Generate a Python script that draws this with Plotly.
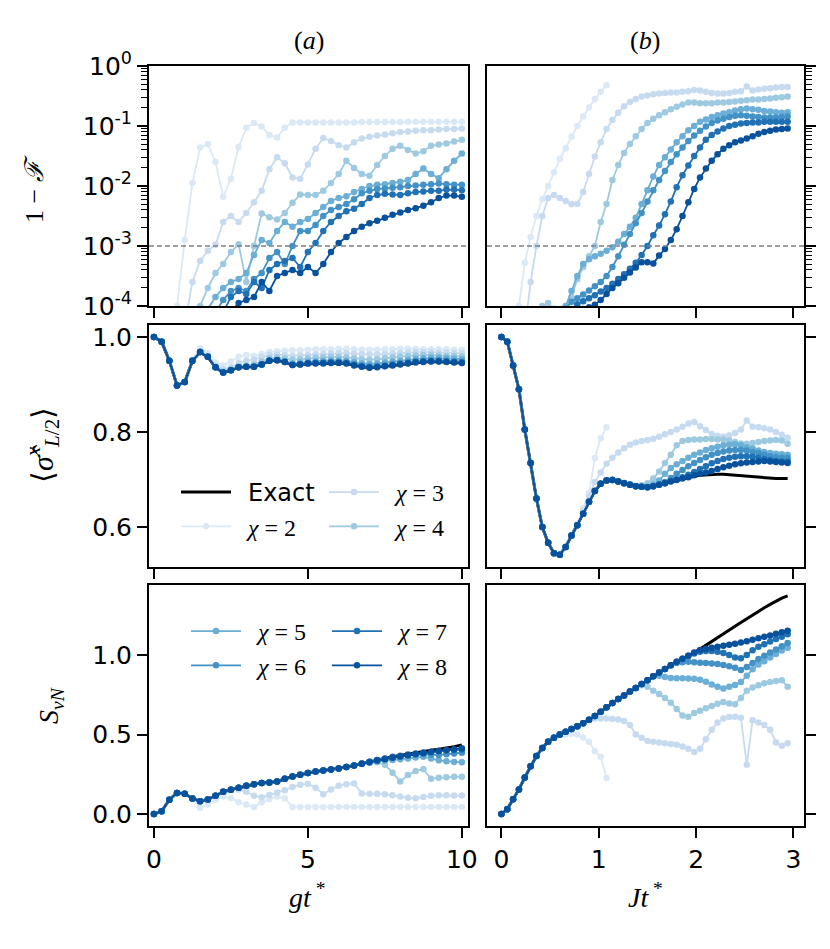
import plotly.graph_objects as go

W, H = 830, 949

# ---------------- time grids ----------------
T_A = [0, 0.25, 0.5, 0.75, 1, 1.25, 1.5, 1.75, 2, 2.25, 2.5, 2.75, 3, 3.25, 3.5, 3.75,
       4, 4.25, 4.5, 4.75, 5, 5.25, 5.5, 5.75, 6, 6.25, 6.5, 6.75, 7, 7.25, 7.5, 7.75,
       8, 8.25, 8.5, 8.75, 9, 9.25, 9.5, 9.75, 10]
T_B = [0, 0.06, 0.12, 0.18, 0.24, 0.3, 0.36, 0.42, 0.48, 0.54, 0.6, 0.66, 0.72, 0.78,
       0.84, 0.9, 0.96, 1.02, 1.08, 1.14, 1.2, 1.26, 1.32, 1.38, 1.44, 1.5, 1.56, 1.62,
       1.68, 1.74, 1.8, 1.86, 1.92, 1.98, 2.04, 2.1, 2.16, 2.22, 2.28, 2.34, 2.4, 2.46,
       2.52, 2.58, 2.64, 2.7, 2.76, 2.82, 2.88, 2.94]
T_B_CHI2 = [0, 0.06, 0.12, 0.18, 0.24, 0.3, 0.36, 0.42, 0.48, 0.54, 0.6, 0.66, 0.72,
            0.78, 0.84, 0.9, 0.96, 1.02, 1.08]

CHI = [2, 3, 4, 5, 6, 7, 8]
COLORS = ["#dbe9f6", "#c6dbef", "#9ecae1", "#6baed6", "#4292c6", "#2171b5", "#08519c"]

# ---------------- (a) top: log10(1-F) ----------------
log_inf_a_chi2 = [-6, -6, -5.5, -4.0, -2.9, -1.95, -1.36, -1.3, -1.6, -2.18, -1.88, -1.35, -1.03,
                  -0.95, -1.01, -1.15, -1.19, -1.03, -0.94, -0.94, -0.94, -0.94, -0.94, -0.94,
                  -0.94, -0.94, -0.94, -0.935, -0.935, -0.935, -0.935, -0.935, -0.935, -0.93,
                  -0.93, -0.93, -0.93, -0.93, -0.93, -0.93, -0.93]
log_inf_a_chi3 = [-6, -6, -6, -5.5, -4.3, -3.6, -3.25, -3.08, -2.98, -2.6, -2.5, -2.6, -2.45,
                  -2.27, -2.08, -1.72, -1.52, -1.62, -1.86, -1.88, -1.64, -1.38, -1.2, -1.25,
                  -1.32, -1.36, -1.27, -1.21, -1.18, -1.16, -1.14, -1.12, -1.1, -1.09, -1.08,
                  -1.07, -1.07, -1.06, -1.05, -1.05, -1.04]
log_inf_a_chi4 = [-6, -6, -6, -6, -5.5, -4.6, -4.0, -3.7, -3.45, -3.3, -3.1, -2.97, -3.6, -3.0,
                  -2.46, -2.52, -2.56, -2.45, -2.28, -2.14, -2.15, -2.15, -2.08, -1.95, -1.8,
                  -1.58, -1.7, -1.8, -1.83, -1.65, -1.5, -1.38, -1.33, -1.4, -1.46, -1.42,
                  -1.33, -1.31, -1.29, -1.26, -1.23]
log_inf_a_chi5 = [-6, -6, -6, -5.5, -5, -4.6, -4.3, -4.05, -3.85, -3.7, -3.6, -3.55, -3.45,
                  -3.15, -2.9, -2.95, -2.75, -2.6, -2.68, -2.6, -2.55, -2.45, -2.35, -2.25,
                  -2.2, -2.17, -2.1, -2.05, -2.0, -1.98, -1.97, -1.95, -1.93, -1.9, -1.8,
                  -1.71, -1.8, -1.87, -1.72, -1.58, -1.46]
log_inf_a_chi6 = [-6, -6, -6, -6, -5.5, -5, -4.6, -4.3, -4.1, -3.9, -3.75, -3.7, -3.75, -3.55,
                  -3.45, -3.2, -3.1, -3.3, -3.0, -2.75, -2.75, -2.65, -2.5, -2.4, -2.35, -2.3,
                  -2.22, -2.12, -2.08, -2.05, -2.04, -2.03, -2.02, -2.0, -1.99, -1.98, -1.97,
                  -1.96, -1.97, -1.98, -1.98]
log_inf_a_chi7 = [-6, -6, -6, -6, -6, -5.5, -5, -4.6, -4.3, -4.1, -3.85, -3.75, -3.8, -3.6,
                  -3.7, -3.4, -3.3, -3.25, -3.2, -3.35, -3.1, -2.95, -2.75, -2.6, -2.5, -2.42,
                  -2.38, -2.3, -2.2, -2.15, -2.13, -2.14, -2.15, -2.12, -2.1, -2.09, -2.08,
                  -2.08, -2.06, -2.06, -2.07]
log_inf_a_chi8 = [-6, -6, -6, -6, -6, -6, -5.5, -5, -4.6, -4.3, -4.1, -3.95, -3.9, -3.85,
                  -3.6, -3.75, -3.5, -3.45, -3.4, -3.45, -3.35, -3.45, -3.3, -3.1, -2.95,
                  -2.85, -2.75, -2.68, -2.62, -2.58, -2.53, -2.48, -2.44, -2.4, -2.37, -2.33,
                  -2.27, -2.2, -2.16, -2.16, -2.18]

# ---------------- (b) top: log10(1-F) ----------------
log_inf_b_chi2 = [-7, -6.5, -5, -4.0, -3.28, -2.85, -2.5, -2.22, -2.0, -1.77, -1.55, -1.37,
                  -1.18, -1.0, -0.84, -0.69, -0.55, -0.43, -0.32]
log_inf_b_chi3 = [-7, -7, -6, -5, -4.4, -3.6, -3.0, -2.5, -2.2, -2.15, -2.2, -2.25, -2.3, -2.3,
                  -2.1, -1.8, -1.51, -1.27, -1.05, -0.9, -0.78, -0.67, -0.6, -0.55, -0.51,
                  -0.49, -0.47, -0.46, -0.45, -0.44, -0.44, -0.43, -0.42, -0.40, -0.41, -0.43,
                  -0.45, -0.46, -0.46, -0.45, -0.43, -0.42, -0.34, -0.41, -0.39, -0.38, -0.37,
                  -0.36, -0.35, -0.35]
log_inf_b_chi4 = [-7, -7, -7, -6, -5, -4.5, -4.1, -4.0, -3.95, -4.05, -4.3, -4.1, -3.85, -3.55,
                  -3.35, -3.17, -3.0, -2.6, -2.3, -1.9, -1.65, -1.45, -1.3, -1.17, -1.05, -0.95,
                  -0.88, -0.82, -0.77, -0.72, -0.68, -0.64, -0.61, -0.61, -0.62, -0.62, -0.62,
                  -0.61, -0.61, -0.6, -0.59, -0.58, -0.57, -0.56, -0.56, -0.55, -0.54, -0.53,
                  -0.52, -0.51]
log_inf_b_chi5 = [-7, -7, -7, -6.5, -6, -5.5, -5, -4.3, -4.1, -4.05, -4.1, -4.0, -3.75, -3.5,
                  -3.3, -3.22, -3.17, -3.13, -3.08, -3.02, -2.93, -2.8, -2.68, -2.53, -2.3,
                  -2.07, -1.84, -1.65, -1.52, -1.39, -1.27, -1.17, -1.07, -1.0, -0.93, -0.89,
                  -0.85, -0.82, -0.79, -0.77, -0.74, -0.72, -0.71, -0.72, -0.73, -0.75, -0.76,
                  -0.77, -0.78, -0.77]
log_inf_b_chi6 = [-7, -7, -7, -7, -6.5, -6, -5.5, -5, -4.7, -4.4, -4.2, -4.05, -3.93, -3.87,
                  -3.81, -3.74, -3.67, -3.6, -3.5, -3.35, -3.17, -2.98, -2.8, -2.62, -2.45,
                  -2.26, -2.07, -1.9, -1.75, -1.6, -1.47, -1.36, -1.25, -1.16, -1.08, -1.01,
                  -0.95, -0.91, -0.88, -0.85, -0.83, -0.82, -0.83, -0.84, -0.85, -0.86, -0.86,
                  -0.86, -0.85, -0.84]
log_inf_b_chi7 = [-7, -7, -7, -7, -7, -6.5, -6, -5.5, -5, -4.7, -4.4, -4.2, -4.05, -3.97,
                  -3.92, -3.87, -3.82, -3.76, -3.7, -3.63, -3.55, -3.47, -3.38, -3.28, -3.15,
                  -3.0, -2.82, -2.66, -2.47, -2.26, -2.02, -1.82, -1.66, -1.5, -1.36, -1.23,
                  -1.15, -1.09, -1.04, -1.0, -0.98, -0.96, -0.95, -0.94, -0.94, -0.93, -0.93,
                  -0.93, -0.93, -0.93]
log_inf_b_chi8 = [-7, -7, -7, -7, -7, -7, -6.5, -6, -5.5, -5, -4.7, -4.5, -4.3, -4.15, -4.05,
                  -4.02, -3.98, -3.9, -3.8, -3.7, -3.62, -3.53, -3.44, -3.36, -3.27, -3.27,
                  -3.29, -3.16, -3.05, -2.9, -2.72, -2.5, -2.27, -2.05, -1.86, -1.71, -1.58,
                  -1.47, -1.38, -1.32, -1.27, -1.24, -1.21, -1.17, -1.13, -1.1, -1.08, -1.06,
                  -1.05, -1.04]

# ---------------- (a) middle: <sigma^x_{L/2}> ----------------
sx_a_exact = [1.0, 0.99, 0.95, 0.898, 0.905, 0.95, 0.968, 0.958, 0.936, 0.925, 0.93, 0.936,
              0.937, 0.937, 0.942, 0.95, 0.951, 0.947, 0.941, 0.942, 0.944, 0.944, 0.944, 0.945,
              0.945, 0.944, 0.94, 0.937, 0.935, 0.936, 0.938, 0.94, 0.942, 0.944, 0.946, 0.947,
              0.948, 0.948, 0.947, 0.946, 0.945]
sx_a_chi2 = [1.0, 0.99, 0.95, 0.898, 0.905, 0.952, 0.976, 0.966, 0.946, 0.94, 0.948, 0.958,
             0.962, 0.96, 0.964, 0.968, 0.97, 0.971, 0.972, 0.972, 0.973, 0.974, 0.974, 0.974,
             0.975, 0.975, 0.974, 0.973, 0.973, 0.973, 0.974, 0.974, 0.975, 0.975, 0.975, 0.974,
             0.974, 0.974, 0.974, 0.973, 0.973]
sx_a_chi3 = [1.0, 0.99, 0.95, 0.898, 0.905, 0.95, 0.97, 0.96, 0.94, 0.932, 0.936, 0.945, 0.95,
             0.952, 0.958, 0.962, 0.963, 0.962, 0.96, 0.961, 0.962, 0.963, 0.964, 0.965, 0.966,
             0.966, 0.965, 0.964, 0.963, 0.963, 0.964, 0.965, 0.966, 0.967, 0.968, 0.968, 0.968,
             0.967, 0.967, 0.966, 0.966]
sx_a_chi4 = [1.0, 0.99, 0.95, 0.898, 0.905, 0.95, 0.968, 0.958, 0.937, 0.927, 0.932, 0.938,
             0.94, 0.942, 0.948, 0.955, 0.957, 0.955, 0.952, 0.953, 0.955, 0.956, 0.957, 0.958,
             0.958, 0.957, 0.955, 0.953, 0.952, 0.953, 0.955, 0.957, 0.959, 0.96, 0.961, 0.962,
             0.962, 0.961, 0.96, 0.96, 0.959]
sx_a_chi5 = [1.0, 0.99, 0.95, 0.898, 0.905, 0.95, 0.968, 0.958, 0.936, 0.925, 0.93, 0.936,
             0.937, 0.938, 0.943, 0.951, 0.952, 0.949, 0.944, 0.946, 0.948, 0.949, 0.95, 0.951,
             0.951, 0.95, 0.947, 0.944, 0.943, 0.944, 0.946, 0.948, 0.95, 0.952, 0.954, 0.955,
             0.956, 0.956, 0.955, 0.954, 0.953]
sx_a_chi6 = [1.0, 0.99, 0.95, 0.898, 0.905, 0.95, 0.968, 0.958, 0.936, 0.925, 0.93, 0.936,
             0.937, 0.937, 0.942, 0.95, 0.951, 0.948, 0.942, 0.943, 0.945, 0.946, 0.946, 0.947,
             0.947, 0.946, 0.943, 0.94, 0.938, 0.939, 0.941, 0.943, 0.945, 0.947, 0.949, 0.95,
             0.951, 0.951, 0.95, 0.949, 0.948]
sx_a_chi7 = [1.0, 0.99, 0.95, 0.898, 0.905, 0.95, 0.968, 0.958, 0.936, 0.925, 0.93, 0.936,
             0.937, 0.937, 0.942, 0.95, 0.951, 0.947, 0.941, 0.942, 0.944, 0.945, 0.945, 0.946,
             0.946, 0.945, 0.941, 0.938, 0.936, 0.937, 0.939, 0.941, 0.943, 0.945, 0.947, 0.948,
             0.949, 0.949, 0.948, 0.947, 0.946]
sx_a_chi8 = [1.0, 0.99, 0.95, 0.898, 0.905, 0.95, 0.968, 0.958, 0.936, 0.925, 0.93, 0.936,
             0.937, 0.937, 0.942, 0.95, 0.951, 0.947, 0.941, 0.942, 0.944, 0.944, 0.944, 0.945,
             0.945, 0.944, 0.94, 0.937, 0.935, 0.936, 0.938, 0.94, 0.942, 0.944, 0.946, 0.947,
             0.948, 0.948, 0.947, 0.946, 0.945]

# ---------------- (b) middle ----------------
sx_b_exact = [1.0, 0.99, 0.94, 0.89, 0.805, 0.735, 0.66, 0.6, 0.567, 0.545, 0.542, 0.558, 0.582,
              0.604, 0.628, 0.653, 0.676, 0.691, 0.698, 0.699, 0.696, 0.692, 0.689, 0.686, 0.685,
              0.684, 0.686, 0.689, 0.692, 0.696, 0.699, 0.702, 0.704, 0.707, 0.709, 0.71, 0.711,
              0.711, 0.711, 0.71, 0.709, 0.708, 0.706, 0.705, 0.704, 0.703, 0.702, 0.702, 0.702,
              0.702]
sx_b_chi2 = [1.0, 0.99, 0.94, 0.89, 0.805, 0.735, 0.66, 0.6, 0.567, 0.545, 0.542, 0.558, 0.582,
             0.606, 0.64, 0.672, 0.745, 0.787, 0.81]
sx_b_chi3 = [1.0, 0.99, 0.94, 0.89, 0.805, 0.735, 0.66, 0.6, 0.567, 0.545, 0.542, 0.558, 0.582,
             0.605, 0.632, 0.665, 0.695, 0.715, 0.733, 0.746, 0.757, 0.766, 0.773, 0.778, 0.781,
             0.783, 0.786, 0.79, 0.795, 0.8, 0.805, 0.811, 0.818, 0.821, 0.812, 0.804, 0.796,
             0.792, 0.79, 0.793, 0.798, 0.805, 0.824, 0.811, 0.81, 0.808, 0.805, 0.8, 0.794,
             0.788]
sx_b_chi4 = [1.0, 0.99, 0.94, 0.89, 0.805, 0.735, 0.66, 0.6, 0.567, 0.545, 0.542, 0.558, 0.582,
             0.604, 0.628, 0.653, 0.677, 0.692, 0.699, 0.7, 0.697, 0.693, 0.69, 0.687, 0.688,
             0.692, 0.702, 0.717, 0.735, 0.752, 0.772, 0.781, 0.783, 0.784, 0.784, 0.785, 0.785,
             0.784, 0.784, 0.782, 0.779, 0.776, 0.775, 0.777, 0.779, 0.781, 0.782, 0.783, 0.782,
             0.775]
sx_b_chi5 = [1.0, 0.99, 0.94, 0.89, 0.805, 0.735, 0.66, 0.6, 0.567, 0.545, 0.542, 0.558, 0.582,
             0.604, 0.628, 0.653, 0.676, 0.691, 0.698, 0.699, 0.696, 0.692, 0.689, 0.686, 0.685,
             0.685, 0.69, 0.698, 0.712, 0.724, 0.732, 0.739, 0.746, 0.752, 0.757, 0.762, 0.766,
             0.769, 0.772, 0.773, 0.774, 0.772, 0.768, 0.765, 0.761, 0.758, 0.756, 0.754, 0.753,
             0.752]
sx_b_chi6 = [1.0, 0.99, 0.94, 0.89, 0.805, 0.735, 0.66, 0.6, 0.567, 0.545, 0.542, 0.558, 0.582,
             0.604, 0.628, 0.653, 0.676, 0.691, 0.698, 0.699, 0.696, 0.692, 0.689, 0.686, 0.685,
             0.684, 0.686, 0.69, 0.695, 0.703, 0.712, 0.72, 0.728, 0.735, 0.741, 0.747, 0.752,
             0.756, 0.759, 0.761, 0.762, 0.762, 0.761, 0.758, 0.755, 0.752, 0.749, 0.747, 0.746,
             0.745]
sx_b_chi7 = [1.0, 0.99, 0.94, 0.89, 0.805, 0.735, 0.66, 0.6, 0.567, 0.545, 0.542, 0.558, 0.582,
             0.604, 0.628, 0.653, 0.676, 0.691, 0.698, 0.699, 0.696, 0.692, 0.689, 0.686, 0.685,
             0.684, 0.686, 0.689, 0.692, 0.697, 0.7, 0.705, 0.71, 0.716, 0.722, 0.728, 0.734,
             0.739, 0.743, 0.746, 0.748, 0.749, 0.749, 0.748, 0.746, 0.743, 0.741, 0.739, 0.738,
             0.738]
sx_b_chi8 = [1.0, 0.99, 0.94, 0.89, 0.805, 0.735, 0.66, 0.6, 0.567, 0.545, 0.542, 0.558, 0.582,
             0.604, 0.628, 0.653, 0.676, 0.691, 0.698, 0.699, 0.696, 0.692, 0.689, 0.686, 0.685,
             0.684, 0.686, 0.689, 0.692, 0.696, 0.699, 0.702, 0.705, 0.709, 0.712, 0.715, 0.718,
             0.722, 0.726, 0.729, 0.732, 0.734, 0.736, 0.737, 0.738, 0.739, 0.738, 0.737, 0.736,
             0.735]

# ---------------- (a) bottom: S_vN ----------------
s_a_exact = [0, 0.017, 0.09, 0.133, 0.128, 0.098, 0.08, 0.092, 0.115, 0.14, 0.153, 0.165,
             0.178, 0.187, 0.196, 0.198, 0.205, 0.222, 0.236, 0.247, 0.258, 0.267, 0.274, 0.28,
             0.287, 0.296, 0.306, 0.318, 0.329, 0.34, 0.35, 0.36, 0.369, 0.378, 0.386, 0.394,
             0.401, 0.408, 0.415, 0.424, 0.435]
s_a_chi2 = [0, 0.017, 0.09, 0.133, 0.128, 0.095, 0.04, 0.06, 0.09, 0.11, 0.1, 0.075, 0.06,
            0.045, 0.075, 0.095, 0.11, 0.1, 0.045, 0.045, 0.045, 0.045, 0.045, 0.045, 0.045,
            0.045, 0.045, 0.045, 0.045, 0.045, 0.045, 0.045, 0.045, 0.045, 0.045, 0.045, 0.045,
            0.045, 0.045, 0.045, 0.045]
s_a_chi3 = [0, 0.017, 0.09, 0.133, 0.128, 0.098, 0.08, 0.092, 0.115, 0.14, 0.15, 0.155, 0.14,
            0.115, 0.105, 0.12, 0.135, 0.15, 0.17, 0.185, 0.19, 0.165, 0.125, 0.155, 0.178,
            0.188, 0.192, 0.13, 0.128, 0.127, 0.125, 0.118, 0.11, 0.102, 0.1, 0.108, 0.115,
            0.118, 0.118, 0.117, 0.116]
s_a_chi4 = [0, 0.017, 0.09, 0.133, 0.128, 0.098, 0.08, 0.092, 0.115, 0.14, 0.153, 0.165,
            0.178, 0.187, 0.196, 0.198, 0.205, 0.222, 0.236, 0.247, 0.258, 0.267, 0.274, 0.28,
            0.287, 0.296, 0.306, 0.317, 0.327, 0.325, 0.31, 0.26, 0.205, 0.245, 0.27, 0.283,
            0.222, 0.228, 0.232, 0.234, 0.235]
s_a_chi5 = [0, 0.017, 0.09, 0.133, 0.128, 0.098, 0.08, 0.092, 0.115, 0.14, 0.153, 0.165,
            0.178, 0.187, 0.196, 0.198, 0.205, 0.222, 0.236, 0.247, 0.258, 0.267, 0.274, 0.28,
            0.287, 0.296, 0.306, 0.314, 0.322, 0.33, 0.336, 0.34, 0.345, 0.35, 0.356, 0.36,
            0.35, 0.338, 0.332, 0.328, 0.325]
s_a_chi6 = [0, 0.017, 0.09, 0.133, 0.128, 0.098, 0.08, 0.092, 0.115, 0.14, 0.153, 0.165,
            0.178, 0.187, 0.196, 0.198, 0.205, 0.222, 0.236, 0.247, 0.258, 0.267, 0.274, 0.28,
            0.287, 0.296, 0.306, 0.318, 0.329, 0.34, 0.347, 0.355, 0.362, 0.368, 0.373, 0.376,
            0.374, 0.372, 0.376, 0.381, 0.386]
s_a_chi7 = [0, 0.017, 0.09, 0.133, 0.128, 0.098, 0.08, 0.092, 0.115, 0.14, 0.153, 0.165,
            0.178, 0.187, 0.196, 0.198, 0.205, 0.222, 0.236, 0.247, 0.258, 0.267, 0.274, 0.28,
            0.287, 0.296, 0.306, 0.318, 0.329, 0.34, 0.35, 0.36, 0.366, 0.374, 0.381, 0.387,
            0.392, 0.396, 0.4, 0.403, 0.406]
s_a_chi8 = [0, 0.017, 0.09, 0.133, 0.128, 0.098, 0.08, 0.092, 0.115, 0.14, 0.153, 0.165,
            0.178, 0.187, 0.196, 0.198, 0.205, 0.222, 0.236, 0.247, 0.258, 0.267, 0.274, 0.28,
            0.287, 0.296, 0.305, 0.316, 0.326, 0.336, 0.345, 0.354, 0.362, 0.37, 0.377, 0.384,
            0.39, 0.396, 0.402, 0.408, 0.414]

# ---------------- (b) bottom: S_vN ----------------
s_b_exact = [0, 0.03, 0.093, 0.155, 0.23, 0.3, 0.365, 0.415, 0.455, 0.48, 0.5, 0.517, 0.535,
             0.552, 0.571, 0.593, 0.616, 0.643, 0.672, 0.698, 0.723, 0.746, 0.77, 0.793, 0.817,
             0.842, 0.866, 0.89, 0.912, 0.935, 0.958, 0.977, 0.995, 1.015, 1.037, 1.06, 1.084,
             1.108, 1.132, 1.156, 1.18, 1.204, 1.228, 1.252, 1.275, 1.297, 1.318, 1.338, 1.357,
             1.372]
s_b_chi2 = [0, 0.03, 0.093, 0.155, 0.23, 0.3, 0.365, 0.415, 0.455, 0.48, 0.495, 0.5, 0.505,
            0.5, 0.48, 0.455, 0.395, 0.36, 0.226]
s_b_chi3 = [0, 0.03, 0.093, 0.155, 0.23, 0.3, 0.365, 0.415, 0.455, 0.48, 0.5, 0.517, 0.535,
            0.552, 0.571, 0.593, 0.6, 0.6, 0.6, 0.598, 0.595, 0.585, 0.56, 0.5, 0.48, 0.46,
            0.455, 0.45, 0.445, 0.44, 0.435, 0.425, 0.41, 0.39, 0.41, 0.47, 0.53, 0.575, 0.6,
            0.61, 0.612, 0.605, 0.31, 0.59, 0.575, 0.56, 0.53, 0.45, 0.43, 0.445]
s_b_chi4 = [0, 0.03, 0.093, 0.155, 0.23, 0.3, 0.365, 0.415, 0.455, 0.48, 0.5, 0.517, 0.535,
            0.552, 0.571, 0.593, 0.616, 0.643, 0.672, 0.698, 0.723, 0.746, 0.77, 0.793, 0.81,
            0.8, 0.775, 0.755, 0.73, 0.7, 0.66, 0.62, 0.612, 0.635, 0.65, 0.665, 0.68, 0.693,
            0.705, 0.695, 0.69, 0.73, 0.775, 0.795, 0.81, 0.822, 0.83, 0.837, 0.842, 0.8]
s_b_chi5 = [0, 0.03, 0.093, 0.155, 0.23, 0.3, 0.365, 0.415, 0.455, 0.48, 0.5, 0.517, 0.535,
            0.552, 0.571, 0.593, 0.616, 0.643, 0.672, 0.698, 0.723, 0.746, 0.77, 0.793, 0.817,
            0.842, 0.866, 0.87, 0.862, 0.856, 0.854, 0.854, 0.853, 0.85, 0.845, 0.832, 0.815,
            0.8, 0.79, 0.8, 0.812, 0.83, 0.87, 0.91, 0.94, 0.96, 0.985, 1.007, 1.028, 1.045]
s_b_chi6 = [0, 0.03, 0.093, 0.155, 0.23, 0.3, 0.365, 0.415, 0.455, 0.48, 0.5, 0.517, 0.535,
            0.552, 0.571, 0.593, 0.616, 0.643, 0.672, 0.698, 0.723, 0.746, 0.77, 0.793, 0.817,
            0.842, 0.866, 0.89, 0.912, 0.935, 0.95, 0.955, 0.957, 0.955, 0.952, 0.95, 0.947,
            0.943, 0.937, 0.93, 0.92, 0.905, 0.925, 0.95, 0.975, 0.995, 1.015, 1.035, 1.055,
            1.075]
s_b_chi7 = [0, 0.03, 0.093, 0.155, 0.23, 0.3, 0.365, 0.415, 0.455, 0.48, 0.5, 0.517, 0.535,
            0.552, 0.571, 0.593, 0.616, 0.643, 0.672, 0.698, 0.723, 0.746, 0.77, 0.793, 0.817,
            0.842, 0.866, 0.89, 0.912, 0.935, 0.958, 0.977, 0.995, 1.01, 1.02, 1.025, 1.025,
            1.02, 1.012, 1.0, 0.985, 0.98, 1.0, 1.03, 1.052, 1.068, 1.085, 1.1, 1.115, 1.13]
s_b_chi8 = [0, 0.03, 0.093, 0.155, 0.23, 0.3, 0.365, 0.415, 0.455, 0.48, 0.5, 0.517, 0.535,
            0.552, 0.571, 0.593, 0.616, 0.643, 0.672, 0.698, 0.723, 0.746, 0.77, 0.793, 0.817,
            0.842, 0.866, 0.89, 0.912, 0.935, 0.958, 0.977, 0.995, 1.015, 1.032, 1.04, 1.046,
            1.052, 1.058, 1.064, 1.07, 1.078, 1.087, 1.096, 1.105, 1.114, 1.123, 1.133, 1.143,
            1.153]

# ---------------- assemble ----------------
INF_A = [log_inf_a_chi2, log_inf_a_chi3, log_inf_a_chi4, log_inf_a_chi5, log_inf_a_chi6,
         log_inf_a_chi7, log_inf_a_chi8]
INF_B = [log_inf_b_chi2, log_inf_b_chi3, log_inf_b_chi4, log_inf_b_chi5, log_inf_b_chi6,
         log_inf_b_chi7, log_inf_b_chi8]
SX_A = [sx_a_chi2, sx_a_chi3, sx_a_chi4, sx_a_chi5, sx_a_chi6, sx_a_chi7, sx_a_chi8]
SX_B = [sx_b_chi2, sx_b_chi3, sx_b_chi4, sx_b_chi5, sx_b_chi6, sx_b_chi7, sx_b_chi8]
S_A = [s_a_chi2, s_a_chi3, s_a_chi4, s_a_chi5, s_a_chi6, s_a_chi7, s_a_chi8]
S_B = [s_b_chi2, s_b_chi3, s_b_chi4, s_b_chi5, s_b_chi6, s_b_chi7, s_b_chi8]

LEGEND_OF = {("mid_a", 2): "legend", ("mid_a", 3): "legend2", ("mid_a", 4): "legend2",
             ("bot_a", 5): "legend3", ("bot_a", 6): "legend3",
             ("bot_a", 7): "legend4", ("bot_a", 8): "legend4"}

fig = go.Figure()


def chi_name(c):
    return "  <i>χ</i> = %d" % c


def add_panel(key, xa, ya, tgrid, series, exact=None, logy=False):
    if exact is not None:
        fig.add_trace(go.Scatter(
            x=tgrid, y=exact, mode="lines", xaxis=xa, yaxis=ya,
            line=dict(color="black", width=3),
            name='  <span style="font-family:DejaVu Sans">Exact</span>',
            showlegend=(key == "mid_a"), legend="legend"))
    for c, col, vals in zip(CHI, COLORS, series):
        xs = T_B_CHI2 if (c == 2 and tgrid is T_B) else tgrid
        ys = [10 ** v for v in vals] if logy else vals
        leg = LEGEND_OF.get((key, c))
        fig.add_trace(go.Scatter(
            x=xs, y=ys, mode="lines+markers", xaxis=xa, yaxis=ya,
            line=dict(color=col, width=1.8),
            marker=dict(color=col, size=6.5, line=dict(width=0)),
            name=chi_name(c), showlegend=leg is not None,
            legend=leg if leg else "legend"))


add_panel("top_a", "x", "y", T_A, INF_A, logy=True)
add_panel("top_b", "x2", "y2", T_B, INF_B, logy=True)
add_panel("mid_a", "x3", "y3", T_A, SX_A, exact=sx_a_exact)
add_panel("mid_b", "x4", "y4", T_B, SX_B, exact=sx_b_exact)
add_panel("bot_a", "x5", "y5", T_A, S_A, exact=s_a_exact)
add_panel("bot_b", "x6", "y6", T_B, S_B, exact=s_b_exact)

# ---------------- axes ----------------
XL = [149 / W, 468 / W]
XR = [487 / W, 804 / W]
ROWS = [[1 - 306 / H, 1 - 66 / H], [1 - 567 / H, 1 - 325 / H], [1 - 826 / H, 1 - 585 / H]]

TICKFONT = dict(family="DejaVu Sans", size=25, color="black")
base = dict(showline=True, linecolor="black", linewidth=2, mirror=True, ticks="outside",
            ticklen=10, tickwidth=2.2, tickcolor="black", showgrid=False, zeroline=False,
            tickfont=TICKFONT, automargin=False)

LOG_TICKS = [1, 0.1, 0.01, 0.001, 0.0001]
LOG_TEXT = ["10<sup>0</sup>", "10<sup>-1</sup>", "10<sup>-2</sup>", "10<sup>-3</sup>",
            "10<sup>-4</sup>"]
MINOR_VALS = [m * 10 ** k for k in (-4, -3, -2, -1) for m in range(2, 10)]
minor = dict(tickmode="array", tickvals=MINOR_VALS, ticks="outside", ticklen=6,
             tickwidth=1.4, tickcolor="black", showgrid=False)

lay = {}
for r in range(3):
    for cidx in range(2):
        n = r * 2 + cidx + 1
        sfx = "" if n == 1 else str(n)
        xa = dict(base, domain=XL if cidx == 0 else XR, anchor="y" + sfx,
                  showticklabels=(r == 2))
        if cidx == 0:
            xa.update(range=[-0.16, 10.2], tickvals=[0, 5, 10])
        else:
            xa.update(range=[-0.148, 3.108], tickvals=[0, 1, 2, 3])
        ya = dict(base, domain=ROWS[r], anchor="x" + sfx, side="left" if cidx == 0 else "right",
                  showticklabels=(cidx == 0))
        if r == 0:
            ya.update(type="log", range=[-4, 0], tickvals=LOG_TICKS, ticktext=LOG_TEXT,
                      minor=minor)
        elif r == 1:
            ya.update(range=[0.516, 1.025], tickvals=[0.6, 0.8, 1.0],
                      ticktext=["0.6", "0.8", "1.0"])
        else:
            ya.update(range=[-0.075, 1.44], tickvals=[0, 0.5, 1.0],
                      ticktext=["0.0", "0.5", "1.0"])
        lay["xaxis" + sfx] = xa
        lay["yaxis" + sfx] = ya

# dashed reference lines at 1e-3
shapes = [dict(type="line", xref="x domain", yref="y", x0=0, x1=1, y0=1e-3, y1=1e-3,
               line=dict(color="#808080", width=1.3, dash="5px,3px")),
          dict(type="line", xref="x2 domain", yref="y2", x0=0, x1=1, y0=1e-3, y1=1e-3,
               line=dict(color="#808080", width=1.3, dash="5px,3px"))]

SERIF = "Liberation Serif"
ann = []


def add_text(text, px, py, size=26, angle=0):
    ann.append(dict(text=text, x=px / W, y=1 - py / H, xref="paper", yref="paper",
                    showarrow=False, textangle=angle, xanchor="center", yanchor="middle",
                    font=dict(family=SERIF, size=size, color="black")))


add_text("(<i>a</i>)", 309, 40)
add_text("(<i>b</i>)", 645, 40)
add_text("1 − <i>ℱ</i>", 34, 189, angle=-90)
add_text("⟨<i>σ̂</i><sup><i>x</i></sup><sub><i>L</i>/2</sub>⟩", 42, 445, size=30, angle=-90)
add_text("<i>S</i><sub><i>vN</i></sub>", 50, 706, size=28, angle=-90)
add_text("<i>gt</i><sup> *</sup>", 307, 895, size=28)
add_text("<i>Jt</i><sup> *</sup>", 645, 895, size=28)

LEGFONT = dict(family=SERIF, size=24, color="black")
legbase = dict(bgcolor="rgba(0,0,0,0)", borderwidth=0, font=LEGFONT, itemwidth=50,
               xanchor="left", yanchor="top", tracegroupgap=0, orientation="v")

fig.update_layout(
    width=W, height=H, margin=dict(l=0, r=0, t=0, b=0, autoexpand=False),
    paper_bgcolor="white", plot_bgcolor="white",
    shapes=shapes, annotations=ann, showlegend=True,
    legend=dict(legbase, x=176 / W, y=1 - 470 / H),
    legend2=dict(legbase, x=324 / W, y=1 - 470 / H),
    legend3=dict(legbase, x=186 / W, y=1 - 609 / H),
    legend4=dict(legbase, x=327 / W, y=1 - 609 / H),
    **lay)

fig.write_html("out.html", config={"displayModeBar": False},
               post_script="document.body.style.margin='0px';"
                           "document.body.style.padding='0px';")
